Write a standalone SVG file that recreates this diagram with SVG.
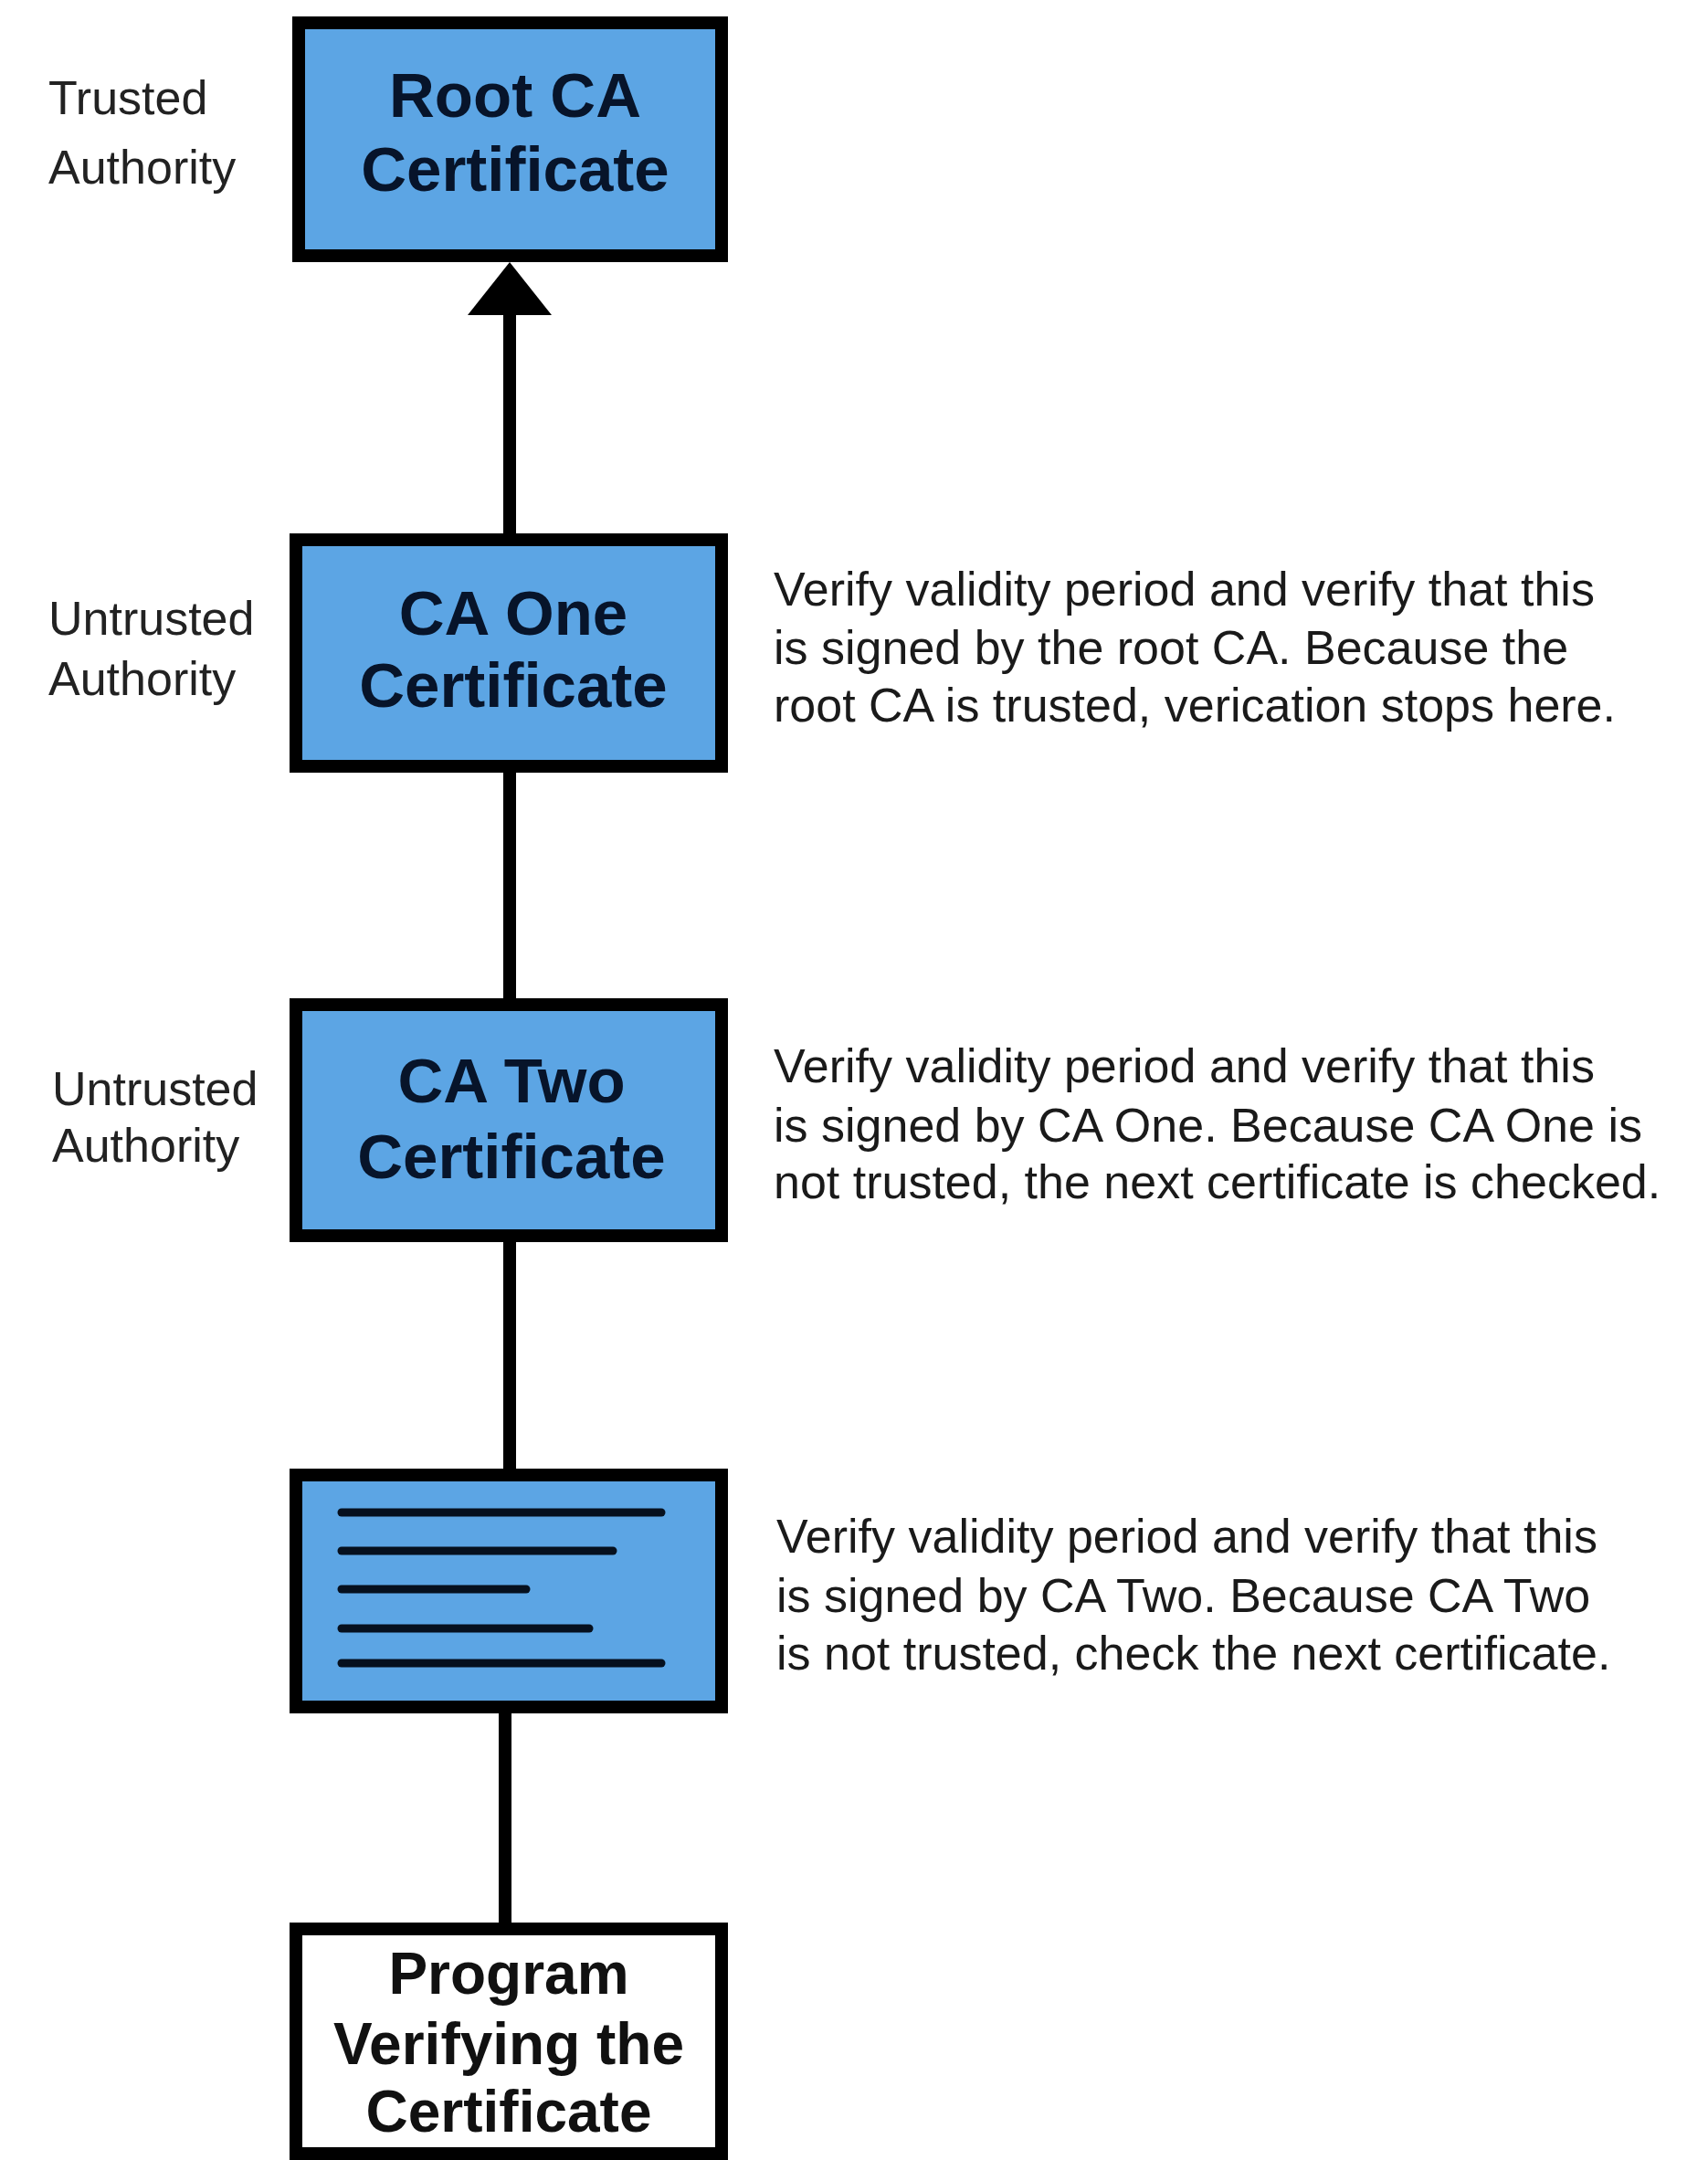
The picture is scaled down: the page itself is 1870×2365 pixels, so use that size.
<svg xmlns="http://www.w3.org/2000/svg" width="1870" height="2365" viewBox="0 0 1870 2365">
<style>
.box{fill:#5CA5E4;stroke:#000;stroke-width:14}
.wbox{fill:#fff;stroke:#000;stroke-width:14}
.title{font-family:"Liberation Sans",Arial,sans-serif;font-weight:bold;font-size:69px;fill:#07142a;text-anchor:middle}
.ptitle{font-family:"Liberation Sans",Arial,sans-serif;font-weight:bold;font-size:64px;fill:#111;text-anchor:middle}
.side{font-family:"Liberation Sans",Arial,sans-serif;font-size:52px;fill:#222}
.desc{font-family:"Liberation Sans",Arial,sans-serif;font-size:52px;fill:#1a1a1a}
.conn{stroke:#000;stroke-width:14;fill:none}
.doc{stroke:#06101e;stroke-width:9;stroke-linecap:round}
</style>
<defs>
<marker id="arrow" markerUnits="userSpaceOnUse" viewBox="0 0 58 92" refX="0" refY="46" markerWidth="58" markerHeight="92" orient="auto">
<path d="M0,0 L58,46 L0,92 z" fill="#000"/>
</marker>
</defs>
<rect width="1870" height="2365" fill="#fff"/>
<g id="connectors">
<line class="conn" x1="558" y1="584" x2="558" y2="345" marker-end="url(#arrow)"/>
<line class="conn" x1="558" y1="846" x2="558" y2="1093"/>
<line class="conn" x1="558" y1="1360" x2="558" y2="1608"/>
<line class="conn" x1="553" y1="1876" x2="553" y2="2105"/>
</g>
<g id="root-ca">
<rect class="box" x="327" y="25" width="463" height="255"/>
<text class="title" x="564" y="128">Root CA</text>
<text class="title" x="564" y="209">Certificate</text>
<text class="side" x="53" y="125">Trusted</text>
<text class="side" x="53" y="201">Authority</text>
</g>
<g id="ca-one">
<rect class="box" x="324" y="591" width="466" height="248"/>
<text class="title" x="562" y="695">CA One</text>
<text class="title" x="562" y="774">Certificate</text>
<text class="side" x="53" y="695">Untrusted</text>
<text class="side" x="53" y="761">Authority</text>
<text class="desc" x="847" y="663">Verify validity period and verify that this</text>
<text class="desc" x="847" y="727">is signed by the root CA. Because the</text>
<text class="desc" x="847" y="790">root CA is trusted, verication stops here.</text>
</g>
<g id="ca-two">
<rect class="box" x="324" y="1100" width="466" height="253"/>
<text class="title" x="560" y="1207">CA Two</text>
<text class="title" x="560" y="1290">Certificate</text>
<text class="side" x="57" y="1210">Untrusted</text>
<text class="side" x="57" y="1272">Authority</text>
<text class="desc" x="847" y="1185">Verify validity period and verify that this</text>
<text class="desc" x="847" y="1250">is signed by CA One. Because CA One is</text>
<text class="desc" x="847" y="1312">not trusted, the next certificate is checked.</text>
</g>
<g id="certificate">
<rect class="box" x="324" y="1615" width="466" height="254"/>
<line class="doc" x1="374" y1="1656" x2="724" y2="1656"/>
<line class="doc" x1="374" y1="1698" x2="671" y2="1698"/>
<line class="doc" x1="374" y1="1740" x2="576" y2="1740"/>
<line class="doc" x1="374" y1="1783" x2="645" y2="1783"/>
<line class="doc" x1="374" y1="1821" x2="724" y2="1821"/>
<text class="desc" x="850" y="1700">Verify validity period and verify that this</text>
<text class="desc" x="850" y="1765">is signed by CA Two. Because CA Two</text>
<text class="desc" x="850" y="1828">is not trusted, check the next certificate.</text>
</g>
<g id="program">
<rect class="wbox" x="324" y="2112" width="466" height="246"/>
<text class="ptitle" x="557" y="2183">Program</text>
<text class="ptitle" x="557" y="2260">Verifying the</text>
<text class="ptitle" x="557" y="2334">Certificate</text>
</g>
</svg>
